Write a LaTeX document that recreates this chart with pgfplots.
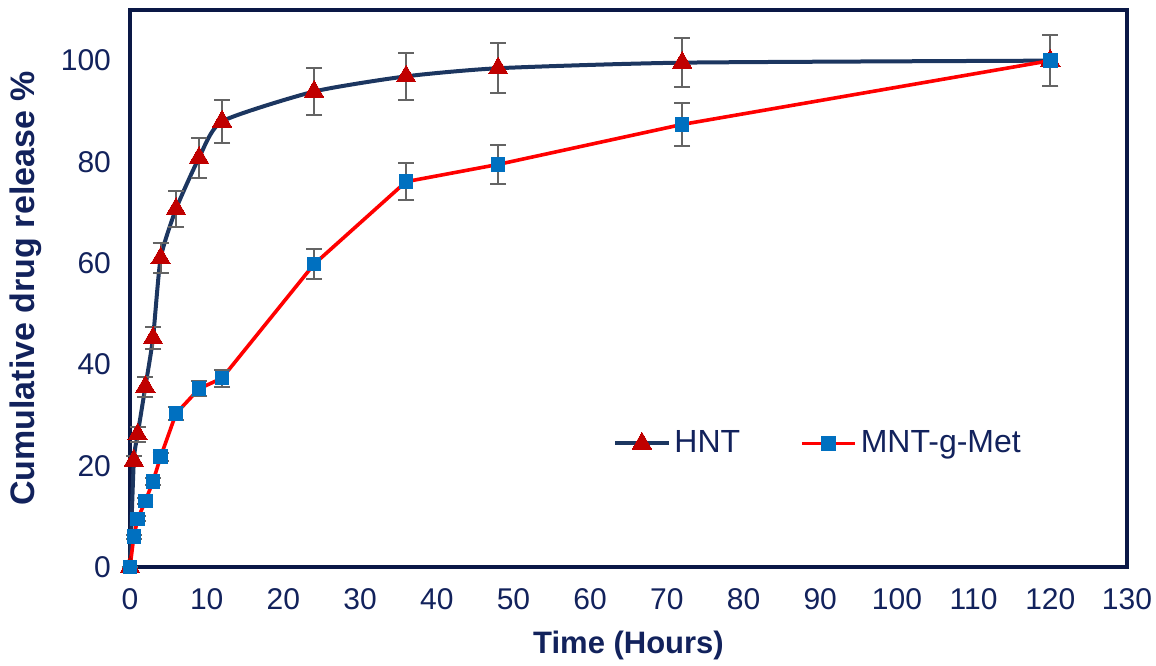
\documentclass[border=0pt]{standalone}
\usepackage{pgfplots}
\pgfplotsset{compat=1.18}
\usepackage{fontspec}
\setmainfont{Liberation Sans}
\usetikzlibrary{calc}
\definecolor{txt}{RGB}{18,34,92}
\definecolor{frame}{RGB}{10,24,70}
\definecolor{hntline}{RGB}{28,54,96}
\definecolor{hntmark}{RGB}{192,0,0}
\definecolor{mntline}{RGB}{255,0,0}
\definecolor{mntmark}{RGB}{0,112,192}
\definecolor{errc}{RGB}{100,100,100}
\begin{document}
\begin{tikzpicture}
\begin{axis}[
  name=ax,
  scale only axis,
  width=498.5pt, height=278.5pt,
  xmin=0, xmax=130, ymin=0, ymax=110,
  xtick={0,10,...,130}, ytick={0,20,...,100},
  major tick length=0pt,
  axis line style={line width=2.2pt, frame},
  /pgf/number format/assume math mode=true,
  tick label style={font=\fontsize{15}{17}\selectfont, text=txt},
  xticklabel style={yshift=-7pt},
  yticklabel style={xshift=-6pt},
  xlabel={\textbf{Time (Hours)}},
  ylabel={\textbf{Cumulative drug release \%}},
  label style={text=txt},
  xlabel style={font=\fontsize{15.5}{18}\selectfont, at={(axis description cs:0.5,0)}, anchor=center, yshift=-39pt},
  ylabel style={font=\fontsize{17}{20}\selectfont, at={(axis description cs:-0.1043,0.5)}, anchor=center, rotate=0},
  clip=false,
  legend style={draw=none, fill=none, at={(axis cs:62.2,24.4)}, anchor=west,
    font=\fontsize{16}{19}\selectfont, text=txt,
    /tikz/every even column/.append style={column sep=28pt}},
  legend columns=2,
  legend cell align=left,
  legend image code/.code={\draw[mark repeat=2,mark phase=2] plot coordinates {(0pt,0pt) (13.25pt,0pt) (26.5pt,0pt)};},
  error bars/error bar style={errc, line width=1pt},
  error bars/error mark options={errc, rotate=90, mark size=4pt, line width=1pt},
]
\addplot[hntline, line width=2pt, smooth, tension=0.35,
  mark=triangle*, mark size=5.6pt, mark options={fill=hntmark, draw=hntmark, line width=0pt, solid},
  error bars/.cd, y dir=both, y explicit]
  coordinates {
  (0,0) +- (0,0)
  (0.5,21) +- (0,1.0)
  (1,26.2) +- (0,1.5)
  (2,35.6) +- (0,2.0)
  (3,45.2) +- (0,2.2)
  (4,61) +- (0,3.0)
  (6,70.7) +- (0,3.6)
  (9,80.8) +- (0,3.9)
  (12,88) +- (0,4.3)
  (24,93.9) +- (0,4.6)
  (36,96.9) +- (0,4.7)
  (48,98.5) +- (0,4.9)
  (72,99.6) +- (0,4.9)
  (120,100) +- (0,5.0)
  };
\addlegendentry{HNT}
\addplot[mntline, line width=1.8pt,
  mark=square*, mark size=3.4pt, mark options={fill=mntmark, draw=mntmark, line width=0pt, solid},
  error bars/.cd, y dir=both, y explicit]
  coordinates {
  (0,0) +- (0,0)
  (0.5,6.0) +- (0,0.4)
  (1,9.5) +- (0,0.5)
  (2,13) +- (0,0.6)
  (3,16.9) +- (0,0.7)
  (4,21.8) +- (0,0.8)
  (6,30.3) +- (0,1.2)
  (9,35.2) +- (0,1.5)
  (12,37.3) +- (0,1.7)
  (24,59.8) +- (0,3.0)
  (36,76.1) +- (0,3.7)
  (48,79.5) +- (0,3.9)
  (72,87.4) +- (0,4.3)
  (120,100) +- (0,5.0)
  };
\addlegendentry{MNT-g-Met}
\end{axis}
\pgfresetboundingbox
\path ($(ax.south west)+(-65pt,-49pt)$) rectangle ($(ax.north east)+(14.5pt,5pt)$);
\end{tikzpicture}
\end{document}
